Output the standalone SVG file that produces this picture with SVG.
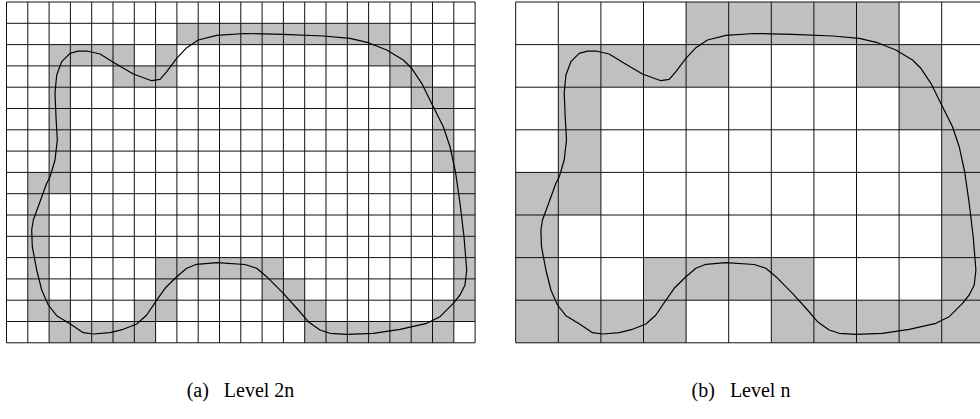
<svg xmlns="http://www.w3.org/2000/svg" xmlns:xlink="http://www.w3.org/1999/xlink" width="980" height="419" viewBox="0 0 980 419">
<style>
.cell{fill:#c0c0c0;stroke:none}
.grid{fill:none;stroke:#111;stroke-width:1;vector-effect:non-scaling-stroke}
.curve{fill:none;stroke:#000;stroke-width:1.2;stroke-linejoin:round}
.cap{font-family:"Liberation Serif","DejaVu Serif",serif;font-size:20px;fill:#000}
</style>
<defs>
<path id="loop" class="curve" d="M50,177 L55,160 57.3,140 56,117 55,93 56.7,75 61.7,61.7 70,53.3 78,51.2 86.7,51 100,54 115,63.3 133.3,74 151.7,80.7 160,79.3 166.7,71.7 176.7,58.3 186.7,47.7 198.3,40 216.7,35.3 245,33.5 283.3,34.3 323.3,36 350,38.3 368.3,42.7 386.7,50 403.3,60 411.7,68.3 421.7,83.3 433.3,106.7 443.3,126.7 450,146.7 455.5,172 460,203.3 464,236.7 466.7,270 465,285 460,295 453.3,303.3 440,316.7 426.7,323.3 400,329.3 373.3,333.3 346.7,334.3 330,333.3 320,330 308.3,321.7 298.3,310 283.3,293.3 266.7,276.7 256.7,268.3 245,264.5 216.7,262.7 196.7,264.3 186.7,268.3 176.7,276.7 165,288.3 155.7,301.7 146.7,315 136.7,324 123.3,329.3 110,332.7 93.3,334 83.3,332.7 70.3,324 56.7,315.7 48.3,305 41.7,290 36.7,270 32.3,246.7 31.7,230 33.3,220 40,201.7 46.7,183.3 Z"/>
</defs>

<g id="level-2n">
  <g transform="translate(6.5 2) scale(21.3)">
    <g class="cells">
      <rect class="cell" x="2" y="2" width="1" height="7"/>
      <rect class="cell" x="1" y="8" width="1" height="7"/>
      <rect class="cell" x="21" y="7" width="1" height="8"/>
      <rect class="cell" x="20" y="4" width="1" height="4"/>
      <rect class="cell" x="8" y="1" width="10" height="1"/>
      <rect class="cell" x="3" y="2" width="3" height="1"/>
      <rect class="cell" x="7" y="2" width="1" height="1"/>
      <rect class="cell" x="17" y="2" width="2" height="1"/>
      <rect class="cell" x="5" y="3" width="3" height="1"/>
      <rect class="cell" x="18" y="3" width="2" height="1"/>
      <rect class="cell" x="19" y="4" width="1" height="1"/>
      <rect class="cell" x="7" y="12" width="6" height="1"/>
      <rect class="cell" x="7" y="13" width="1" height="1"/>
      <rect class="cell" x="12" y="13" width="2" height="1"/>
      <rect class="cell" x="2" y="14" width="1" height="1"/>
      <rect class="cell" x="6" y="14" width="2" height="1"/>
      <rect class="cell" x="13" y="14" width="2" height="1"/>
      <rect class="cell" x="20" y="14" width="1" height="1"/>
      <rect class="cell" x="2" y="15" width="5" height="1"/>
      <rect class="cell" x="14" y="15" width="7" height="1"/>
    </g>
    <path class="grid" d="M0 0V16M1 0V16M2 0V16M3 0V16M4 0V16M5 0V16M6 0V16M7 0V16M8 0V16M9 0V16M10 0V16M11 0V16M12 0V16M13 0V16M14 0V16M15 0V16M16 0V16M17 0V16M18 0V16M19 0V16M20 0V16M21 0V16M22 0V16M0 0H22M0 1H22M0 2H22M0 3H22M0 4H22M0 5H22M0 6H22M0 7H22M0 8H22M0 9H22M0 10H22M0 11H22M0 12H22M0 13H22M0 14H22M0 15H22M0 16H22"/>
  </g>
  <use xlink:href="#loop" href="#loop"/>
</g>

<g id="level-n">
  <g transform="translate(515.7 2) scale(42.6)">
    <g class="cells">
      <rect class="cell" x="1" y="1" width="1" height="4"/>
      <rect class="cell" x="10" y="2" width="1" height="6"/>
      <rect class="cell" x="0" y="4" width="1" height="4"/>
      <rect class="cell" x="4" y="0" width="5" height="1"/>
      <rect class="cell" x="1" y="1" width="4" height="1"/>
      <rect class="cell" x="8" y="1" width="2" height="1"/>
      <rect class="cell" x="9" y="2" width="1" height="1"/>
      <rect class="cell" x="3" y="6" width="4" height="1"/>
      <rect class="cell" x="0" y="7" width="4" height="1"/>
      <rect class="cell" x="6" y="7" width="4" height="1"/>
    </g>
    <path class="grid" d="M0 0V8M1 0V8M2 0V8M3 0V8M4 0V8M5 0V8M6 0V8M7 0V8M8 0V8M9 0V8M10 0V8M11 0V8M0 0H11M0 1H11M0 2H11M0 3H11M0 4H11M0 5H11M0 6H11M0 7H11M0 8H11"/>
  </g>
  <use xlink:href="#loop" href="#loop" transform="translate(509.2 0)"/>
</g>

<g id="captions">
  <text class="cap" x="240.5" y="397" text-anchor="middle" xml:space="preserve">(a)   Level 2n</text>
  <text class="cap" x="741" y="397" text-anchor="middle" xml:space="preserve">(b)   Level n</text>
</g>
</svg>
